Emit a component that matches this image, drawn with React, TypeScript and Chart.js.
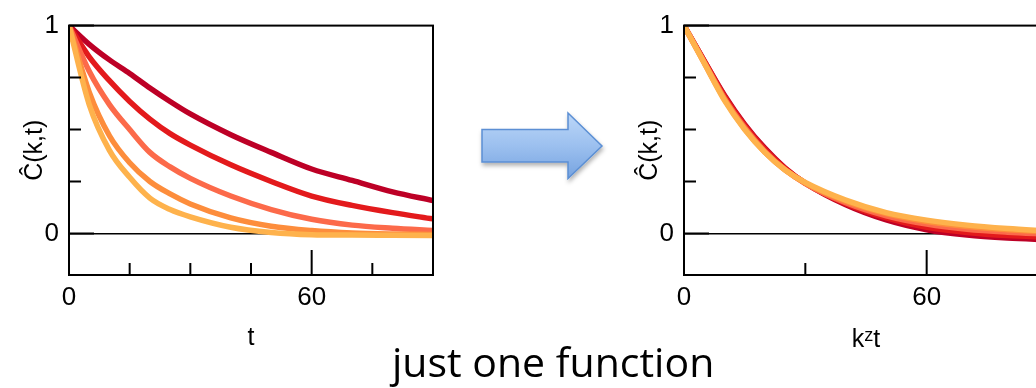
import React, { useEffect, useRef } from 'react';
import { Chart, registerables } from 'chart.js';

Chart.register(...registerables);

// ---- data ----
const tValues = [0, 5, 10, 15, 20, 25, 30, 40, 50, 60, 70, 80, 90];

// left panel: C(k,t) vs t (slowest decay first)
const leftDarkRed = [1, 0.91, 0.835, 0.77, 0.7, 0.635, 0.575, 0.475, 0.39, 0.31, 0.255, 0.2, 0.158];
const leftRed = [1, 0.85, 0.735, 0.635, 0.55, 0.48, 0.425, 0.33, 0.25, 0.18, 0.135, 0.1, 0.07];
const leftSalmon = [1, 0.78, 0.62, 0.5, 0.39, 0.32, 0.265, 0.18, 0.115, 0.068, 0.04, 0.025, 0.014];
const leftOrange = [1, 0.68, 0.47, 0.34, 0.25, 0.19, 0.142, 0.075, 0.035, 0.014, 0.002, -0.003, -0.005];
const leftLightOrange = [1, 0.62, 0.4, 0.27, 0.17, 0.115, 0.08, 0.03, 0.005, -0.006, -0.008, -0.009, -0.01];

// right panel: C(k,t) vs k^z t (collapsed)
const rightDarkRed = [1, 0.83, 0.665, 0.525, 0.41, 0.315, 0.242, 0.138, 0.065, 0.018, -0.008, -0.022, -0.03];
const rightRed = [1, 0.83, 0.66, 0.52, 0.405, 0.313, 0.242, 0.143, 0.075, 0.03, 0.005, -0.01, -0.018];
const rightSalmon = [1, 0.825, 0.65, 0.51, 0.395, 0.307, 0.24, 0.148, 0.085, 0.045, 0.02, 0.006, -0.003];
const rightOrange = [1, 0.82, 0.645, 0.503, 0.39, 0.305, 0.242, 0.155, 0.095, 0.057, 0.033, 0.018, 0.006];
const rightLightOrange = [1, 0.82, 0.64, 0.5, 0.39, 0.305, 0.245, 0.16, 0.1, 0.064, 0.04, 0.024, 0.012];

const seriesColors = ['#bd0026', '#e31a1c', '#fc6a4a', '#fd8d3c', '#feb24c'];

const xLabelTicks = [0, 60];
const yLabelTicks = [0, 1];
const yMinorTicks = [0.25, 0.5, 0.75];
const yMajorTicks = [0, 1];
const leftXMinorTicks = [15, 30, 45, 75];
const leftXMajorTicks = [60];
const rightXMinorTicks = [30];
const rightXMajorTicks = [60];

const yTitle = 'Ĉ(k,t)';
const leftXTitle = 't';
const rightXTitle = 'kᶻt';
const caption = 'just one function';

const FONT = "'Liberation Sans', Arial, 'DejaVu Sans', sans-serif";

const frameTicksPlugin = {
  id: 'frameTicks',
  afterDatasetsDraw(chart: any, _args: any, opts: any) {
    const { ctx, chartArea: a, scales } = chart;
    const x = scales.x;
    const y = scales.y;
    ctx.save();
    ctx.strokeStyle = '#000';
    ctx.lineWidth = 2;
    ctx.beginPath();
    for (const v of opts.xMinor || []) {
      const p = x.getPixelForValue(v);
      ctx.moveTo(p, a.bottom);
      ctx.lineTo(p, a.bottom - 12);
    }
    for (const v of opts.xMajor || []) {
      const p = x.getPixelForValue(v);
      ctx.moveTo(p, a.bottom);
      ctx.lineTo(p, a.bottom - 25);
    }
    for (const v of opts.yMinor || []) {
      const p = y.getPixelForValue(v);
      ctx.moveTo(a.left, p);
      ctx.lineTo(a.left + 12, p);
    }
    for (const v of opts.yMajor || []) {
      const p = y.getPixelForValue(v);
      ctx.moveTo(a.left, p);
      ctx.lineTo(a.left + 25, p);
    }
    ctx.stroke();
    ctx.strokeRect(a.left, a.top, a.right - a.left, a.bottom - a.top);
    ctx.restore();
  },
};

type PanelProps = {
  series: number[][];
  xTitle: string;
  xMinor: number[];
  xMajor: number[];
  titlePad: number;
  left: number;
};

function Panel({ series, xTitle, xMinor, xMajor, titlePad, left }: PanelProps) {
  const ref = useRef<HTMLCanvasElement>(null);
  useEffect(() => {
    const datasets = series
      .map((s, i) => ({
        data: tValues.map((t, j) => ({ x: t, y: s[j] })),
        borderColor: seriesColors[i],
        backgroundColor: seriesColors[i],
        borderWidth: 5.5,
        pointRadius: 0,
        cubicInterpolationMode: 'monotone' as const,
        fill: false,
      }))
      .reverse();
    const chart = new Chart(ref.current as HTMLCanvasElement, {
      type: 'line',
      data: { datasets },
      options: {
        animation: false,
        responsive: false,
        events: [],
        layout: { padding: { top: 19, right: 12, left: 0, bottom: 0 } },
        plugins: {
          legend: { display: false },
          tooltip: { enabled: false },
          // @ts-ignore
          frameTicks: { xMinor, xMajor, yMinor: yMinorTicks, yMajor: yMajorTicks },
        },
        scales: {
          x: {
            type: 'linear',
            min: 0,
            max: 90,
            afterBuildTicks: (s: any) => {
              s.ticks = xLabelTicks.map((v) => ({ value: v }));
            },
            afterFit: (s: any) => {
              s.height = 113;
            },
            grid: { display: false, drawTicks: false },
            border: { display: false },
            ticks: {
              padding: 7,
              maxRotation: 0,
              autoSkip: false,
              color: '#000',
              font: { family: FONT, size: 26 },
            },
            title: {
              display: true,
              text: xTitle,
              color: '#000',
              font: { family: FONT, size: 25 },
              padding: { top: 0, bottom: titlePad },
            },
          },
          y: {
            type: 'linear',
            min: -0.2,
            max: 1,
            afterBuildTicks: (s: any) => {
              s.ticks = yLabelTicks.map((v) => ({ value: v }));
            },
            afterFit: (s: any) => {
              s.width = 69;
            },
            grid: {
              drawTicks: false,
              lineWidth: 1.5,
              color: (c: any) => (c.tick && c.tick.value === 0 ? '#000' : 'rgba(0,0,0,0)'),
            },
            border: { display: false },
            ticks: {
              padding: 10,
              color: '#000',
              font: { family: FONT, size: 26 },
            },
            title: {
              display: true,
              text: yTitle,
              color: '#000',
              font: { family: FONT, size: 25 },
              padding: { top: 20, bottom: 0 },
            },
          },
        },
      },
      plugins: [frameTicksPlugin],
    } as any);
    return () => chart.destroy();
  }, []);
  return (
    <canvas
      ref={ref}
      width={445}
      height={388}
      style={{ position: 'absolute', left, top: 0, width: 445, height: 388, display: 'block' }}
    />
  );
}

function Arrow() {
  return (
    <svg
      width={150}
      height={100}
      style={{ position: 'absolute', left: 470, top: 100, overflow: 'visible' }}
    >
      <defs>
        <linearGradient id="arrowGrad" x1="0" y1="0" x2="0" y2="1">
          <stop offset="0" stopColor="#bcd7f8" />
          <stop offset="0.5" stopColor="#9cc0ef" />
          <stop offset="1" stopColor="#76a3e0" />
        </linearGradient>
        <filter id="arrowShadow" x="-20%" y="-20%" width="140%" height="160%">
          <feDropShadow dx="1" dy="3" stdDeviation="2" floodColor="#000" floodOpacity="0.3" />
        </filter>
      </defs>
      <polygon
        points="12,29.5 98,29.5 98,13 132,46 98,78.5 98,62 12,62"
        fill="url(#arrowGrad)"
        stroke="#5b8fd4"
        strokeWidth={1.5}
        strokeLinejoin="miter"
        filter="url(#arrowShadow)"
      />
    </svg>
  );
}

export default function App() {
  return (
    <div
      style={{
        position: 'fixed',
        left: 0,
        top: 0,
        width: 1036,
        height: 388,
        overflow: 'hidden',
        background: '#fff',
      }}
    >
      <Panel
        series={[leftDarkRed, leftRed, leftSalmon, leftOrange, leftLightOrange]}
        xTitle={leftXTitle}
        xMinor={leftXMinorTicks}
        xMajor={leftXMajorTicks}
        titlePad={35}
        left={0}
      />
      <Panel
        series={[rightDarkRed, rightRed, rightSalmon, rightOrange, rightLightOrange]}
        xTitle={rightXTitle}
        xMinor={rightXMinorTicks}
        xMajor={rightXMajorTicks}
        titlePad={33}
        left={615}
      />
      <Arrow />
      <div
        style={{
          position: 'absolute',
          left: 392,
          top: 340.5,
          fontFamily: "'Open Sans', sans-serif",
          fontSize: 41,
          lineHeight: 1,
          whiteSpace: 'nowrap',
          color: '#000',
        }}
      >
        {caption}
      </div>
    </div>
  );
}
